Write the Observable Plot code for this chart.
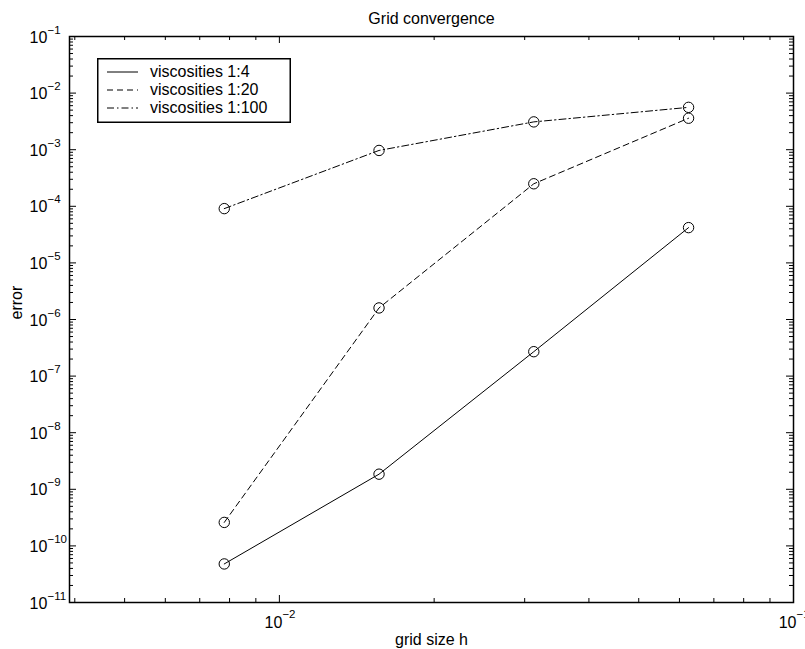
<!DOCTYPE html>
<html><head><meta charset="utf-8">
<script src="https://cdn.jsdelivr.net/npm/d3@7"></script>
<script src="https://cdn.jsdelivr.net/npm/@observablehq/plot@0.6"></script>
<style>
body{margin:0;background:#fff;}
#chart{position:relative;width:805px;height:649px;font-family:"Liberation Sans",Arial,Helvetica,sans-serif;}
#legend{position:absolute;left:97px;top:58px;}
</style></head><body><div id="chart"></div>
<script>
// ---- data ----
const gridSizes = [0.0078125, 0.015625, 0.03125, 0.0625];
const errVisc4   = [4.8e-11, 1.85e-9, 2.7e-7, 4.2e-5];
const errVisc20  = [2.6e-10, 1.6e-6, 2.5e-4, 3.6e-3];
const errVisc100 = [9.1e-5, 9.7e-4, 3.1e-3, 5.6e-3];
const seriesNames = ["viscosities 1:4", "viscosities 1:20", "viscosities 1:100"];
const xTickExponents = [-2, -1];
const yTickExponents = [-11, -10, -9, -8, -7, -6, -5, -4, -3, -2, -1];
const titleText = "Grid convergence";
const xLabelText = "grid size h";
const yLabelText = "error";

// ---- layout ----
const W = 805, H = 649, mL = 69, mR = 12, mT = 36, mB = 47;
const pw = W - mL - mR, ph = H - mT - mB;
const font = '"Liberation Sans",Arial,Helvetica,sans-serif';
const dashes = [null, "6,4", "7,3,1.5,3"];
const FS = 16, FSE = 11.5;

const allSeries = [errVisc4, errVisc20, errVisc100];
const rows = [];
allSeries.forEach((arr, i) => arr.forEach((e, j) => rows.push({h: gridSizes[j], err: e, s: i})));

const xDomain = [1/256, 0.1], yDomain = [1e-11, 1e-1];
const xMajor = xTickExponents.map(e => 10 ** e);
const yMajor = yTickExponents.map(e => 10 ** e);
const xMinor = [];
[-3, -2].forEach(e => { for (let k = 2; k <= 9; k++) { const v = k * 10 ** e; if (v >= xDomain[0] && v <= xDomain[1]) xMinor.push(v); } });
const yMinor = [];
yTickExponents.slice(0, -1).forEach(e => { for (let k = 2; k <= 9; k++) yMinor.push(k * 10 ** e); });

const marks = [
  Plot.tickY(yMajor, {y: d => d, insetRight: pw - 7, stroke: "black"}),
  Plot.tickY(yMajor, {y: d => d, insetLeft: pw - 7, stroke: "black"}),
  Plot.tickY(yMinor, {y: d => d, insetRight: pw - 4, stroke: "black"}),
  Plot.tickY(yMinor, {y: d => d, insetLeft: pw - 4, stroke: "black"}),
  Plot.tickX(xMajor, {x: d => d, insetTop: ph - 7, stroke: "black"}),
  Plot.tickX(xMajor, {x: d => d, insetBottom: ph - 7, stroke: "black"}),
  Plot.tickX(xMinor, {x: d => d, insetTop: ph - 4, stroke: "black"}),
  Plot.tickX(xMinor, {x: d => d, insetBottom: ph - 4, stroke: "black"}),
  Plot.frame({stroke: "black", strokeWidth: 1.5}),
];
allSeries.forEach((arr, i) => {
  marks.push(Plot.line(rows.filter(r => r.s === i), {x: "h", y: "err", stroke: "black", strokeWidth: 1, strokeDasharray: dashes[i]}));
});
marks.push(Plot.dot(rows, {x: "h", y: "err", r: 5.2, stroke: "black", fill: "none", strokeWidth: 1}));
// tick labels
marks.push(
  Plot.text(xTickExponents, {x: e => 10 ** e, text: () => "10", frameAnchor: "bottom", dy: 25, dx: 3, textAnchor: "end", lineAnchor: "bottom", fontSize: FS}),
  Plot.text(xTickExponents, {x: e => 10 ** e, text: e => "\u2212" + Math.abs(e), frameAnchor: "bottom", dy: 15, dx: 3, textAnchor: "start", lineAnchor: "bottom", fontSize: FSE}),
  Plot.text(yTickExponents, {y: e => 10 ** e, text: () => "10", frameAnchor: "left", dx: -40, dy: 6, textAnchor: "start", lineAnchor: "bottom", fontSize: FS}),
  Plot.text(yTickExponents, {y: e => 10 ** e, text: e => "\u2212" + Math.abs(e), frameAnchor: "left", dx: -22, dy: -3, textAnchor: "start", lineAnchor: "bottom", fontSize: FSE}),
  Plot.text([titleText], {text: d => d, frameAnchor: "top", dy: -13, lineAnchor: "bottom", fontSize: FS}),
  Plot.text([xLabelText], {text: d => d, frameAnchor: "bottom", dy: 42, lineAnchor: "bottom", fontSize: FS}),
  Plot.text([yLabelText], {text: d => d, frameAnchor: "left", dx: -48, rotate: -90, lineAnchor: "bottom", fontSize: FS})
);

const chart = Plot.plot({
  width: W, height: H,
  marginLeft: mL, marginRight: mR, marginTop: mT, marginBottom: mB,
  x: {type: "log", domain: xDomain, axis: null},
  y: {type: "log", domain: yDomain, axis: null},
  style: {fontFamily: font, fontSize: FS + "px", background: "white", color: "black", overflow: "hidden"},
  marks
});
const root = document.getElementById("chart");
root.appendChild(chart);

// legend overlay
const lg = d3.create("svg").attr("id", "legend").attr("width", 195).attr("height", 66)
  .style("font-family", font).style("font-size", FS + "px");
lg.append("rect").attr("x", 0.75).attr("y", 0.75).attr("width", 192.5).attr("height", 63.5)
  .attr("fill", "white").attr("stroke", "black").attr("stroke-width", 1.5);
seriesNames.forEach((name, i) => {
  const yy = 14 + i * 18;
  const ln = lg.append("line").attr("x1", 10).attr("x2", 41).attr("y1", yy).attr("y2", yy)
    .attr("stroke", "black").attr("stroke-width", 1);
  if (dashes[i]) ln.attr("stroke-dasharray", dashes[i]);
  lg.append("text").attr("x", 53).attr("y", yy + 5).attr("fill", "black").text(name);
});
root.appendChild(lg.node());
</script></body></html>
